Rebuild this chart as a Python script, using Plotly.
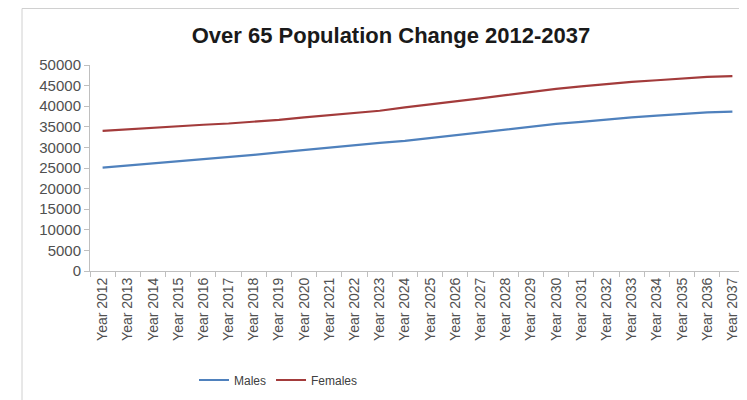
import plotly.graph_objects as go

years = [f"Year {y}" for y in range(2012, 2038)]
males = [25100, 25600, 26200, 26700, 27200, 27700, 28200, 28800, 29400, 29900,
         30500, 31100, 31600, 32300, 33000, 33700, 34400, 35100, 35700, 36200,
         36800, 37300, 37700, 38100, 38500, 38700]
females = [34000, 34400, 34800, 35200, 35500, 35800, 36200, 36700, 37300, 37800,
           38300, 38900, 39700, 40400, 41100, 41900, 42700, 43500, 44200, 44800,
           45400, 45900, 46300, 46700, 47100, 47300]

# page body adds an 8px offset; positions below are in figure coordinates
W, H = 747, 400
L, R, T, B = 82, 10, 57, 137
pw, ph = W - L - R, H - T - B

fig = go.Figure()
fig.add_trace(go.Scatter(x=years, y=males, mode="lines", name="Males",
                         line=dict(color="#4F81BD", width=2.2)))
fig.add_trace(go.Scatter(x=years, y=females, mode="lines", name="Females",
                         line=dict(color="#A33B3B", width=2.2)))

fig.update_layout(
    width=W, height=H,
    margin=dict(l=L, r=R, t=T, b=B, autoexpand=False),
    paper_bgcolor="white", plot_bgcolor="white",
    font=dict(family="Liberation Sans, Arial, sans-serif", size=12, color="#404040"),
    title=dict(text="<b>Over 65 Population Change 2012-2037</b>",
               x=383 / W, xanchor="center", y=1 - 27 / H, yanchor="middle",
               font=dict(size=22, color="#1a1a1a")),
    showlegend=True,
    legend=dict(orientation="h", x=(186 - L) / pw, xanchor="left",
                y=-(372 - (T + ph)) / ph, yanchor="middle",
                font=dict(size=12, color="#404040"),
                tracegroupgap=0),
    xaxis=dict(type="category", range=[-0.5, 25.5], tickangle=-90, automargin=False,
               showgrid=False, showline=True, linecolor="#BFBFBF", linewidth=1,
               ticks="outside", tickson="boundaries", ticklen=5, tickcolor="#BFBFBF",
               tickfont=dict(size=14, color="#505050")),
    yaxis=dict(range=[0, 50000], dtick=5000, tickformat="d", automargin=False,
               showgrid=False, zeroline=False,
               showline=True, linecolor="#BFBFBF", linewidth=1,
               ticks="outside", ticklen=5, tickcolor="#BFBFBF",
               tickfont=dict(size=15, color="#505050")),
    shapes=[dict(type="rect", xref="paper", yref="paper",
                 x0=(14 - L) / pw, x1=(W + 5 - L) / pw,
                 y0=-(H + 5 - T - ph) / ph, y1=(T + ph - 0.5) / ph,
                 line=dict(color="#D0D0D0", width=1), layer="below")],
)

fig.write_html("out.html")
